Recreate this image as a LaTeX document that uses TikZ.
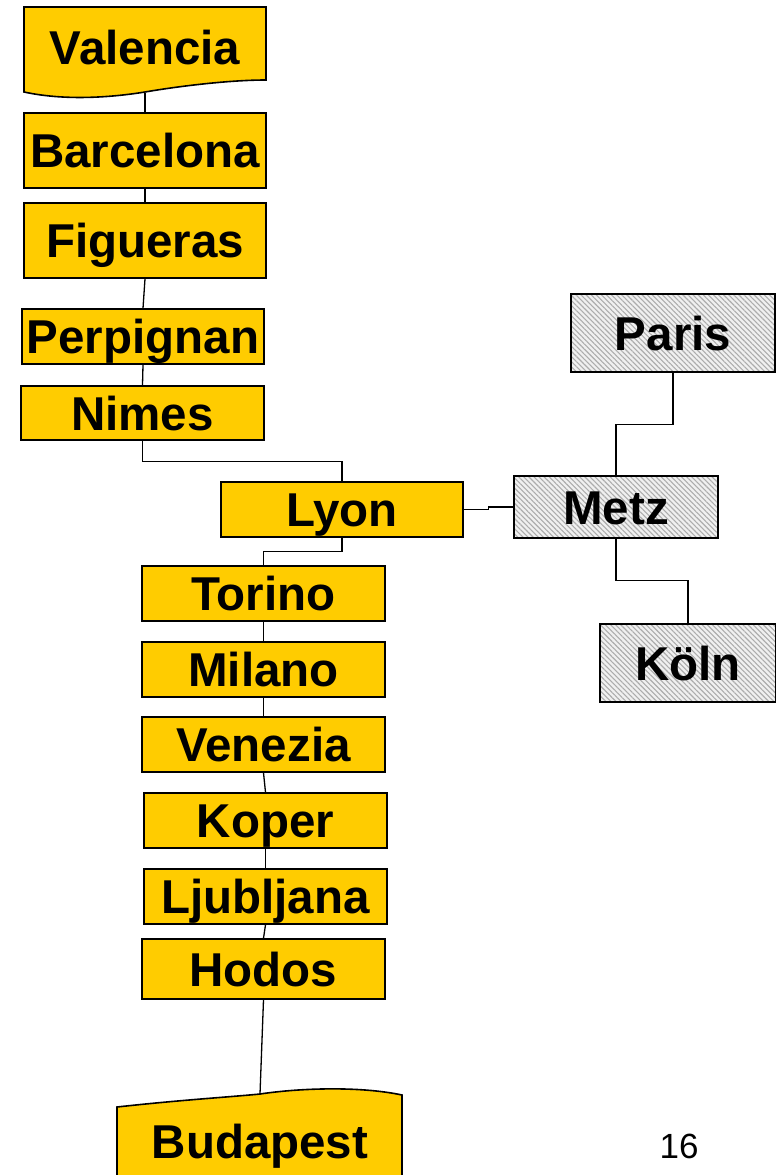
\documentclass[tikz,border=0pt]{standalone}
\usepackage{fontspec}
\setmainfont{Liberation Sans}
\usetikzlibrary{patterns.meta}
\definecolor{cityyellow}{HTML}{FFCC00}
\tikzset{
  cityfont/.style={font=\fontsize{47.5}{51}\selectfont\bfseries, text height=34pt, text depth=0pt},
  city/.style={draw=black, line width=1.6pt, fill=cityyellow, inner sep=0pt, cityfont,
    minimum width=242pt, minimum height=55pt},
  hatched/.style={draw=black, line width=1.6pt, inner sep=0pt,
    preaction={fill=gray!12},
    pattern={Lines[angle=-45, distance=3.6pt, line width=1.1pt]}, pattern color=gray!65,
    cityfont, minimum width=204pt},
  label/.style={inner sep=0pt, cityfont},
  wavebox/.style={draw=black, line width=1.6pt, fill=cityyellow},
  link/.style={draw=black, line width=1.3pt}
}
\begin{document}
\begin{tikzpicture}[x=1pt, y=-1pt]
\useasboundingbox[fill=white] (0,0) rectangle (776,1175);
% Valencia (document shape)
\draw[wavebox] (24,7) -- (266,7) -- (266,80)
  .. controls (230,80) and (180,86) .. (145,92)
  .. controls (120,96) and (70,102) .. (24,92) -- cycle;
\node[label] (valencia) at (145,47) {Valencia};
\coordinate (vb) at (145,93);
% Budapest (wavy top)
\draw[wavebox] (117,1107) .. controls (180,1100) and (230,1097) .. (260,1094)
  .. controls (300,1088) and (360,1086) .. (402,1095) -- (402,1185) -- (117,1185) -- cycle;
\node[label] (budapest) at (260,1141.5) {Budapest};
\coordinate (bt) at (260,1094);
% yellow boxes
\node[city, minimum height=75pt] (barcelona) at (145,150.5) {Barcelona};
\node[city, minimum height=75pt] (figueras) at (145,240.5) {Figueras};
\node[city] (perpignan) at (143,336.5) {Perpignan};
\node[city, minimum height=54pt, minimum width=243pt] (nimes) at (142.5,413) {Nimes};
\node[city] (lyon) at (342,509.5) {Lyon};
\node[city, minimum width=243pt] (torino) at (263.5,593.5) {Torino};
\node[city, minimum width=243pt] (milano) at (263.5,669.5) {Milano};
\node[city, minimum width=243pt] (venezia) at (263.5,744.5) {Venezia};
\node[city, minimum width=243pt] (koper) at (265.5,820.5) {Koper};
\node[city, minimum width=243pt] (ljubljana) at (265.5,896.5) {Ljubljana};
\node[city, minimum width=243pt, minimum height=60pt] (hodos) at (263.5,969) {Hodos};
% hatched boxes
\node[hatched, minimum height=78pt] (paris) at (673,333) {Paris};
\node[hatched, minimum height=62pt] (metz) at (616,507) {Metz};
\node[hatched, minimum height=78pt, minimum width=176pt] (koln) at (688,663) {Köln};
% page number
\node[inner sep=0pt, font=\fontsize{35}{38}\selectfont, text height=25pt, text depth=0pt] (pagenum) at (679,1145.5) {16};
% connectors
\draw[link] (vb) -- (barcelona.north);
\draw[link] (barcelona.south) -- (figueras.north);
\draw[link] (figueras.south) -- (perpignan.north);
\draw[link] (perpignan.south) -- (nimes.north);
\draw[link] (nimes.south) -- ++(0,21) -| (lyon.north);
\draw[link] (lyon.south) -- ++(0,14) -| (torino.north);
\draw[link] (torino.south) -- (milano.north);
\draw[link] (milano.south) -- (venezia.north);
\draw[link] (venezia.south) -- (koper.north);
\draw[link] (koper.south) -- (ljubljana.north);
\draw[link] (ljubljana.south) -- (hodos.north);
\draw[link] (hodos.south) -- (bt);
\draw[link] (lyon.east) -- ++(25,0) |- (metz.west);
\draw[link] (paris.south) -- ++(0,52) -| (metz.north);
\draw[link] (metz.south) -- ++(0,42) -| (koln.north);
\end{tikzpicture}
\end{document}
